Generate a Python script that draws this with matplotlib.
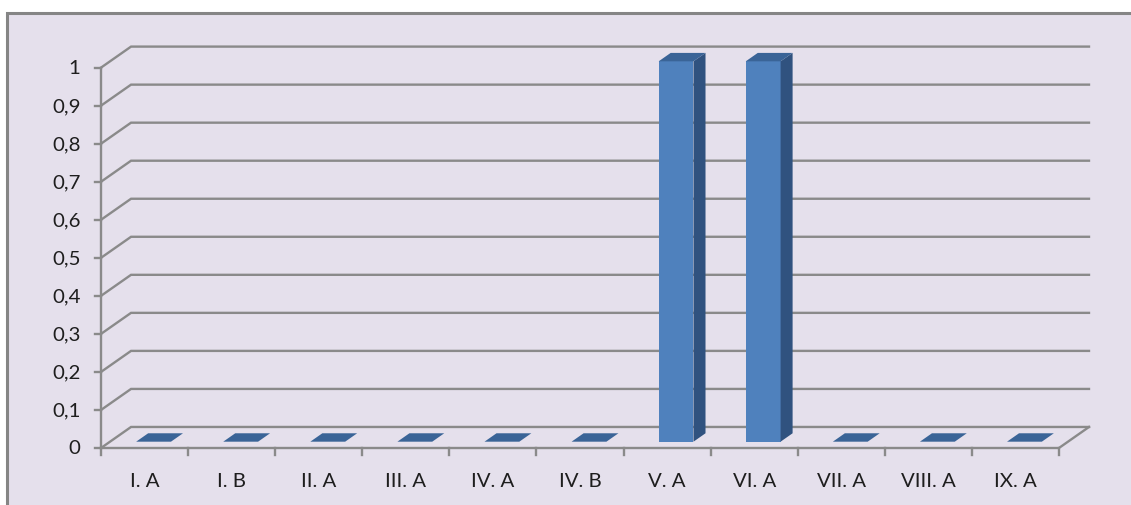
import matplotlib
matplotlib.use("Agg")
import matplotlib.pyplot as plt
from matplotlib.patches import Polygon, Rectangle

categories = ["I. A", "I. B", "II. A", "III. A", "IV. A", "IV. B",
              "V. A", "VI. A", "VII. A", "VIII. A", "IX. A"]
values = [0, 0, 0, 0, 0, 0, 1, 1, 0, 0, 0]
y_ticks = [0, 0.1, 0.2, 0.3, 0.4, 0.5, 0.6, 0.7, 0.8, 0.9, 1.0]
y_labels = ["0", "0,1", "0,2", "0,3", "0,4", "0,5", "0,6", "0,7", "0,8", "0,9", "1"]

W, H, DPI = 1131, 506, 100
BG = "#E5E0EC"
GRID = "#8A8A8A"
FRONT = "#4F81BD"
SIDE = "#30527F"
TOP = "#3A6497"
TXT = "#1E1E1E"
FONT = "Lato"

fig = plt.figure(figsize=(W / DPI, H / DPI), dpi=DPI)
fig.patch.set_facecolor("white")

# fit font size so that the widest label matches the reference width (~56 px)
renderer = fig.canvas.get_renderer()
probe = fig.text(0, 0, "VIII. A", fontsize=10, family=FONT)
w10 = probe.get_window_extent(renderer).width
probe.remove()
FS = 10 * 54.0 / w10

# outer chart area with border
frame = Rectangle((7 / W, -0.1), 1.2, (H - 14) / H + 0.1, transform=fig.transFigure,
                  facecolor=BG, edgecolor="#858585", linewidth=2.2, zorder=-5)
fig.patches.append(frame)

n = len(categories)
D = 0.345   # depth offset in category units
E = 0.0553  # depth offset in value units
ax = fig.add_axes([101 / W, (H - 449) / H, (1089 - 101) / W, (449 - 47.6) / H])
ax.set_zorder(2)
ax.set_xlim(0, n + D)
ax.set_ylim(0, 1 + E)
ax.axis("off")
ax.patch.set_alpha(0)

lw = 1.7
# gridlines with perspective
for v in y_ticks:
    ax.plot([0, D, n + D], [v, v + E, v + E], color=GRID, lw=lw,
            solid_joinstyle="miter", zorder=1, clip_on=False)
    ax.plot([-0.07, 0], [v, v], color=GRID, lw=lw, zorder=1, clip_on=False)
# floor
ax.plot([0, n, n + D], [0, 0, E], color=GRID, lw=lw, zorder=1, clip_on=False)
# left axis line
ax.plot([0, 0], [0, 1], color=GRID, lw=lw, zorder=1, clip_on=False)
# x ticks
for i in range(n + 1):
    ax.plot([i, i], [0, -0.018], color=GRID, lw=lw, zorder=1, clip_on=False)

# y labels
for v, lab in zip(y_ticks, y_labels):
    ax.text(-0.235, v, lab, ha="right", va="center", fontsize=FS,
            family=FONT, color=TXT, clip_on=False)
# x labels
for i, lab in enumerate(categories):
    ax.text(i + 0.5, -0.085, lab, ha="center", va="center", fontsize=FS,
            family=FONT, color=TXT, clip_on=False)

# bars
bw = 0.40
f0, f1 = 0.3, 0.7
for i, v in enumerate(values):
    x0 = i + 0.5 + f0 * D - bw / 2
    y0 = f0 * E
    ddx = (f1 - f0) * D
    ddy = (f1 - f0) * E
    if v > 0:
        ax.add_patch(Rectangle((x0, y0), bw, v, facecolor=FRONT, edgecolor="none", zorder=3))
        ax.add_patch(Polygon([(x0 + bw, y0), (x0 + bw + ddx, y0 + ddy),
                              (x0 + bw + ddx, y0 + v + ddy), (x0 + bw, y0 + v)],
                             closed=True, facecolor=SIDE, edgecolor="none", zorder=3))
    ax.add_patch(Polygon([(x0, y0 + v), (x0 + bw, y0 + v),
                          (x0 + bw + ddx, y0 + v + ddy), (x0 + ddx, y0 + v + ddy)],
                         closed=True, facecolor=TOP, edgecolor="none", zorder=3))

fig.savefig("out.png", dpi=DPI)
